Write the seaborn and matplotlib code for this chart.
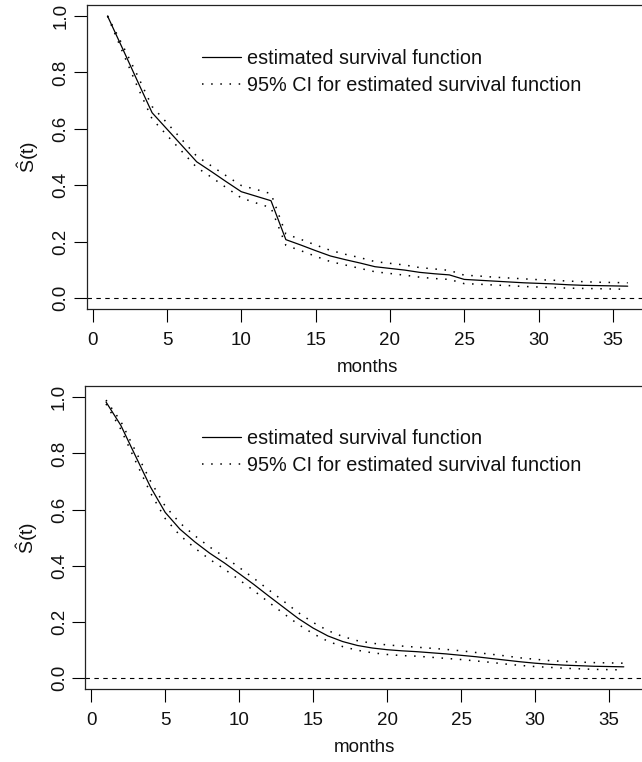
import matplotlib
matplotlib.use("Agg")
import matplotlib.pyplot as plt
import seaborn as sns
import pandas as pd

months = list(range(1, 37))

s_top = [1.000, 0.886, 0.771, 0.657, 0.599, 0.541, 0.483, 0.448, 0.412, 0.377,
         0.361, 0.345, 0.207, 0.188, 0.168, 0.149, 0.136, 0.124, 0.111, 0.105,
         0.099, 0.091, 0.086, 0.082, 0.066, 0.063, 0.060, 0.057, 0.054, 0.052,
         0.050, 0.047, 0.045, 0.044, 0.043, 0.042]
upper_top = [1.000, 0.898, 0.791, 0.679, 0.621, 0.562, 0.503, 0.468, 0.433, 0.399,
             0.385, 0.370, 0.227, 0.208, 0.188, 0.169, 0.155, 0.143, 0.129, 0.123,
             0.117, 0.108, 0.103, 0.098, 0.081, 0.078, 0.074, 0.071, 0.068, 0.065,
             0.063, 0.060, 0.058, 0.056, 0.055, 0.054]
lower_top = [1.000, 0.874, 0.751, 0.635, 0.577, 0.520, 0.463, 0.428, 0.391, 0.355,
             0.337, 0.320, 0.187, 0.168, 0.148, 0.129, 0.117, 0.105, 0.093, 0.087,
             0.081, 0.074, 0.069, 0.066, 0.051, 0.049, 0.046, 0.044, 0.041, 0.039,
             0.037, 0.035, 0.034, 0.033, 0.032, 0.031]

s_bottom = [0.983, 0.900, 0.790, 0.681, 0.590, 0.530, 0.485, 0.445, 0.410, 0.372,
            0.333, 0.292, 0.252, 0.212, 0.178, 0.150, 0.130, 0.116, 0.107, 0.101,
            0.097, 0.094, 0.090, 0.086, 0.081, 0.076, 0.070, 0.064, 0.058, 0.053,
            0.049, 0.046, 0.044, 0.042, 0.041, 0.040]
upper_bottom = [0.990, 0.914, 0.808, 0.702, 0.612, 0.552, 0.507, 0.467, 0.432, 0.394,
                0.355, 0.314, 0.274, 0.233, 0.198, 0.169, 0.148, 0.133, 0.124, 0.118,
                0.114, 0.110, 0.106, 0.102, 0.097, 0.091, 0.085, 0.079, 0.072, 0.067,
                0.062, 0.059, 0.057, 0.055, 0.054, 0.053]
lower_bottom = [0.976, 0.886, 0.772, 0.660, 0.568, 0.508, 0.463, 0.423, 0.388, 0.350,
                0.311, 0.270, 0.230, 0.191, 0.158, 0.131, 0.112, 0.099, 0.090, 0.084,
                0.080, 0.078, 0.074, 0.070, 0.066, 0.061, 0.056, 0.050, 0.045, 0.041,
                0.038, 0.035, 0.033, 0.031, 0.030, 0.029]

x_ticks = [0, 5, 10, 15, 20, 25, 30, 35]
y_ticks = [0.0, 0.2, 0.4, 0.6, 0.8, 1.0]
y_ticklabels = ["0.0", "0.2", "0.4", "0.6", "0.8", "1.0"]
label_est = "estimated survival function"
label_ci = "95% CI for estimated survival function"
x_label = "months"
y_label = r"$\hat{\mathrm{S}}\mathrm{(t)}$"

sns.set_theme(style="ticks")
plt.rcParams["font.family"] = ["Liberation Sans", "DejaVu Sans"]
plt.rcParams["mathtext.fontset"] = "custom"
plt.rcParams["mathtext.rm"] = "Liberation Sans"
plt.rcParams["mathtext.it"] = "Liberation Sans:italic"

fig = plt.figure(figsize=(6.42, 7.62), dpi=100)
fig.patch.set_facecolor("white")

W, H = 642.0, 762.0
panels = [
    dict(rect=(86.7 / W, 1 - 309.3 / H, (648.5 - 86.7) / W, (309.3 - 4.7) / H),
         s=s_top, up=upper_top, lo=lower_top, legy=0.856, legx=(201.7 - 86.7) / (648.5 - 86.7)),
    dict(rect=(85.3 / W, 1 - 689.3 / H, (644.5 - 85.3) / W, (689.3 - 386.0) / H),
         s=s_bottom, up=upper_bottom, lo=lower_bottom, legy=0.858, legx=(201.7 - 85.3) / (644.5 - 85.3)),
]

dot = (0, (1, 5))
for p in panels:
    ax = fig.add_axes(p["rect"])
    ax.set_facecolor("white")
    df = pd.DataFrame({"month": months, "s": p["s"], "up": p["up"], "lo": p["lo"]})
    ax.axhline(0, color="black", lw=0.8, linestyle=(0, (4, 4)), zorder=1)
    sns.lineplot(data=df, x="month", y="s", ax=ax, color="black", lw=0.9,
                 estimator=None, label=label_est, zorder=3)
    sns.lineplot(data=df, x="month", y="up", ax=ax, color="black", lw=1.1,
                 linestyle=dot, estimator=None, label=label_ci, zorder=2)
    sns.lineplot(data=df, x="month", y="lo", ax=ax, color="black", lw=1.1,
                 linestyle=dot, estimator=None, label="_nolegend_", zorder=2)
    ax.set_xlim(-0.4, 37.4)
    ax.set_ylim(-0.04, 1.04)
    ax.set_xticks(x_ticks)
    ax.set_xticklabels([str(t) for t in x_ticks])
    ax.set_yticks(y_ticks)
    ax.set_yticklabels(y_ticklabels, rotation=90, va="center")
    ax.tick_params(axis="both", direction="out", length=9.5, width=0.8,
                   color="black", labelsize=13.5, labelcolor="#111111")
    ax.tick_params(axis="x", pad=7)
    ax.tick_params(axis="y", pad=3)
    for sp in ax.spines.values():
        sp.set_visible(True)
        sp.set_color("#222222")
        sp.set_linewidth(0.9)
    ax.set_xlabel(x_label, fontsize=13.5, labelpad=7, color="#111111")
    ax.set_ylabel(y_label, fontsize=14, labelpad=8, color="#111111")
    leg = ax.legend(loc="upper left", bbox_to_anchor=(p["legx"], p["legy"]),
                    frameon=False, fontsize=14.3, handlelength=2.0, handletextpad=0.27,
                    borderpad=0, borderaxespad=0, labelspacing=0.4)
    for t in leg.get_texts():
        t.set_color("#111111")

fig.savefig("out.png", dpi=100, facecolor="white")
